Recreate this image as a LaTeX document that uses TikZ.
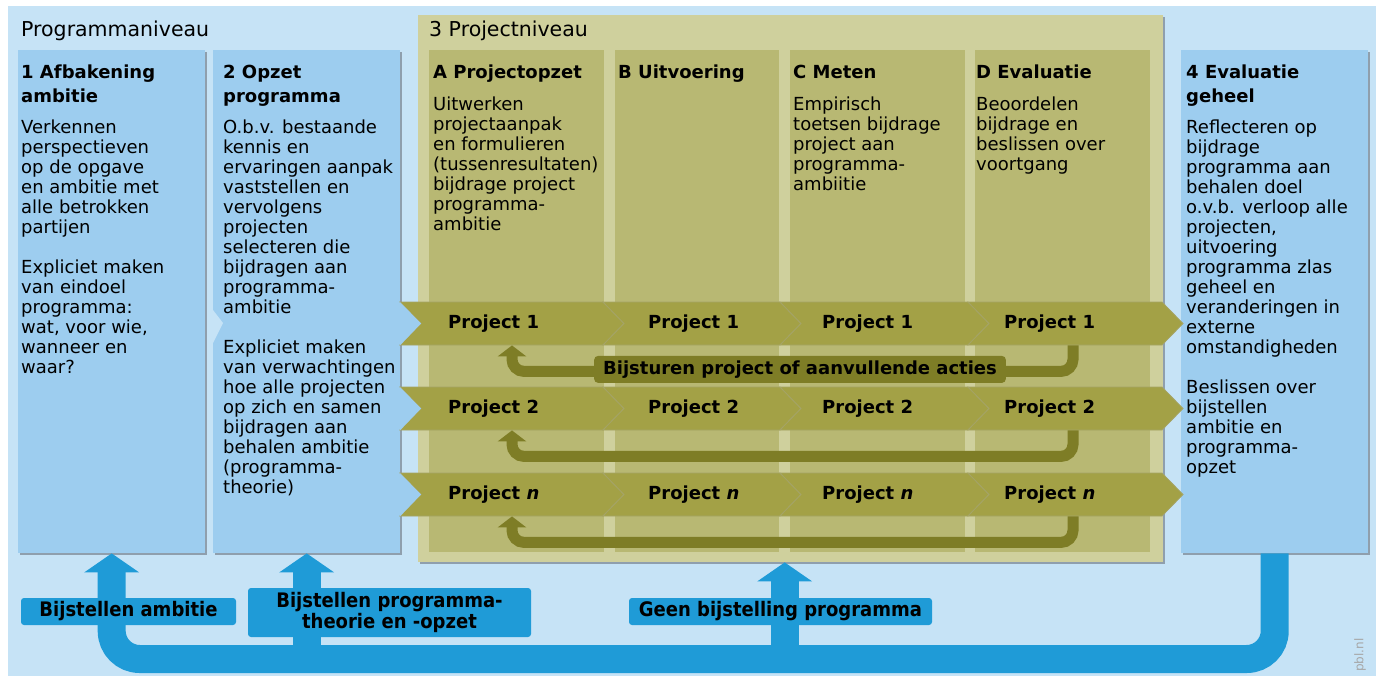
\documentclass[tikz,border=0pt]{standalone}
\usepackage{fontspec}
\setmainfont{DejaVu Sans}
\newfontfamily\condfont{DejaVu Sans Condensed}
\usetikzlibrary{arrows.meta,shadows}

\definecolor{bgblue}{HTML}{C6E3F6}
\definecolor{colblue}{HTML}{9DCDEF}
\definecolor{loopblue}{HTML}{1F9BD7}
\definecolor{olivebox}{HTML}{CFD09D}
\definecolor{olivecol}{HTML}{B8B873}
\definecolor{olivebar}{HTML}{A3A146}
\definecolor{olivedark}{HTML}{7E7D26}
\definecolor{edgegray}{HTML}{8A98A6}

\tikzset{
  colbox/.style={fill=colblue,anchor=north west,inner sep=0pt,minimum width=187pt,minimum height=503pt,
    drop shadow={shadow xshift=2pt,shadow yshift=-2pt,fill=edgegray,opacity=0.9}},
  obox/.style={fill=olivebox,anchor=north west,inner sep=0pt,minimum width=745pt,minimum height=547pt,
    drop shadow={shadow xshift=2pt,shadow yshift=-2pt,fill=edgegray,opacity=0.9}},
  ocol/.style={fill=olivecol,anchor=north west,inner sep=0pt,minimum width=175pt,minimum height=502pt},
  rowbox/.style={anchor=north west,inner sep=0pt,minimum width=782pt,minimum height=43pt},
  barseg/.style={fill=olivebar,draw=olivedark!70,line width=0.8pt},
  bartext/.style={anchor=west,inner sep=0pt,font=\bfseries\fontsize{18}{20}\selectfont},
  title/.style={anchor=base west,inner sep=0pt,font=\fontsize{20.5}{24}\selectfont},
  head/.style={anchor=north west,align=left,inner sep=0pt,font=\bfseries\fontsize{18}{24}\selectfont},
  body/.style={anchor=north west,align=left,inner sep=0pt,font=\fontsize{18}{20}\selectfont},
  fback/.style={draw=olivedark,line width=11pt,rounded corners=12pt,-{Triangle[width=28pt,length=11pt]}},
  steer/.style={fill=olivedark,rounded corners=4pt,inner xsep=9pt,inner ysep=0pt,minimum height=27pt,
    font=\bfseries\fontsize{18}{20}\selectfont},
  loopline/.style={draw=loopblue,line width=28pt,rounded corners=28pt,-{Triangle[width=54pt,length=19pt]}},
  blab/.style={fill=loopblue,rounded corners=3pt,align=center,inner sep=0pt,minimum height=27pt,
    font=\condfont\bfseries\fontsize{20}{21}\selectfont}
}

\begin{document}
\begin{tikzpicture}[x=1pt,y=-1pt]
\useasboundingbox (0,0) rectangle (1378,679);
\fill[white] (0,0) rectangle (1378,679);
\fill[bgblue] (8,6) rectangle (1376,676);

%% project level
\node[obox] (pbox) at (418,15) {};
\node[ocol] (colA) at (429,50) {};
\node[ocol,minimum width=164pt] (colB) at (615,50) {};
\node[ocol] (colC) at (790,50) {};
\node[ocol] (colD) at (975,50) {};

%% programme level
\node[colbox] (col1) at (18,50) {};
\node[colbox] (col2) at (213,50) {};
\node[colbox] (col4) at (1181,50) {};
\fill[bgblue] ([shift={(0,260)}]col2.north west) -- ([shift={(10,273)}]col2.north west)
  -- ([shift={(0,293)}]col2.north west) -- cycle;

%% project bars
\foreach \r/\y/\lab in {1/302/1,2/387/2,n/473/\textit{n}}{
  \node[rowbox] (row\r) at (400,\y) {};
  \foreach \a/\b/\t [count=\s] in {0/203/48,203/380/248,380/568/422,568/762/604}{
    \draw[barseg] ([shift={(\a,0)}]row\r.north west) -- ([shift={(\b,0)}]row\r.north west)
      -- ([shift={(\b+21,21.5)}]row\r.north west) -- ([shift={(\b,43)}]row\r.north west)
      -- ([shift={(\a,43)}]row\r.north west) -- ([shift={(\a+21,21.5)}]row\r.north west) -- cycle;
    \node[bartext] (p\r-\s) at ([shift={(\t,21.5)}]row\r.north west) {Project \lab};
  }
  \fill[colblue] (row\r.north west) -- ([shift={(21,21.5)}]row\r.north west) -- (row\r.south west) -- cycle;
  %% feedback
  \draw[fback] ([xshift=673pt]row\r.south west) -- ++(0,26) -| ([xshift=112pt]row\r.south west);
}
\node[steer] (steer) at ([shift={(400,24)}]row1.south west) {Bijsturen project of aanvullende acties};

%% titles
\node[title] at (21,37) {Programmaniveau};
\node[title] at ([shift={(11,22)}]pbox.north west) {3 Projectniveau};

%% column texts
\node[head] at ([shift={(3,14.5)}]col1.north west) {1 Afbakening\\ambitie};
\node[body] at ([shift={(3,69.5)}]col1.north west) {Verkennen\\perspectieven\\op de opgave\\en ambitie met\\alle betrokken\\partijen\\[20pt]Expliciet maken\\van eindoel\\programma:\\wat, voor wie,\\wanneer en\\waar?};
\node[head] at ([shift={(10,14.5)}]col2.north west) {2 Opzet\\programma};
\node[body] at ([shift={(10,69.5)}]col2.north west) {O.b.v. bestaande\\kennis en\\ervaringen aanpak\\vaststellen en\\vervolgens\\projecten\\selecteren die\\bijdragen aan\\programma-\\ambitie\\[20pt]Expliciet maken\\van verwachtingen\\hoe alle projecten\\op zich en samen\\bijdragen aan\\behalen ambitie\\(programma-\\theorie)};
\node[head] at ([shift={(4,14.5)}]colA.north west) {A Projectopzet};
\node[body] at ([shift={(4,46.5)}]colA.north west) {Uitwerken\\projectaanpak\\en formulieren\\(tussenresultaten)\\bijdrage project\\programma-\\ambitie};
\node[head] at ([shift={(3,14.5)}]colB.north west) {B Uitvoering};
\node[head] at ([shift={(3,14.5)}]colC.north west) {C Meten};
\node[body] at ([shift={(3,46.5)}]colC.north west) {Empirisch\\toetsen bijdrage\\project aan\\programma-\\ambiitie};
\node[head] at ([shift={(1,14.5)}]colD.north west) {D Evaluatie};
\node[body] at ([shift={(1,46.5)}]colD.north west) {Beoordelen\\bijdrage en\\beslissen over\\voortgang};
\node[head] at ([shift={(5,14.5)}]col4.north west) {4 Evaluatie\\geheel};
\node[body] at ([shift={(5,69.5)}]col4.north west) {Reflecteren op\\bijdrage\\programma aan\\behalen doel\\o.v.b. verloop alle\\projecten,\\uitvoering\\programma zlas\\geheel en\\veranderingen in\\externe\\omstandigheden\\[20pt]Beslissen over\\bijstellen\\ambitie en\\programma-\\opzet};

%% loop back
\coordinate (band) at (0,659);
\coordinate (gap3) at ([xshift=-6pt]pbox.south);
\draw[loopline] (col4.south) |- (col1.south |- band) -- (col1.south);
\draw[loopline] (col2.south |- band) -- (col2.south);
\draw[loopline] (gap3 |- band) -- (gap3);
\node[blab,minimum width=215pt] (adjamb) at (128.5,611.5) {Bijstellen ambitie};
\node[blab,minimum width=283pt,minimum height=49pt] (adjtheory) at (389.5,612.5) {Bijstellen programma-\\theorie en -opzet};
\node[blab,minimum width=303pt] (noadj) at (780.5,611.5) {Geen bijstelling programma};

\node[rotate=90,text=gray!70,font=\fontsize{12}{14}\selectfont] (pbl) at (1360,655) {pbl.nl};
\end{tikzpicture}
\end{document}
